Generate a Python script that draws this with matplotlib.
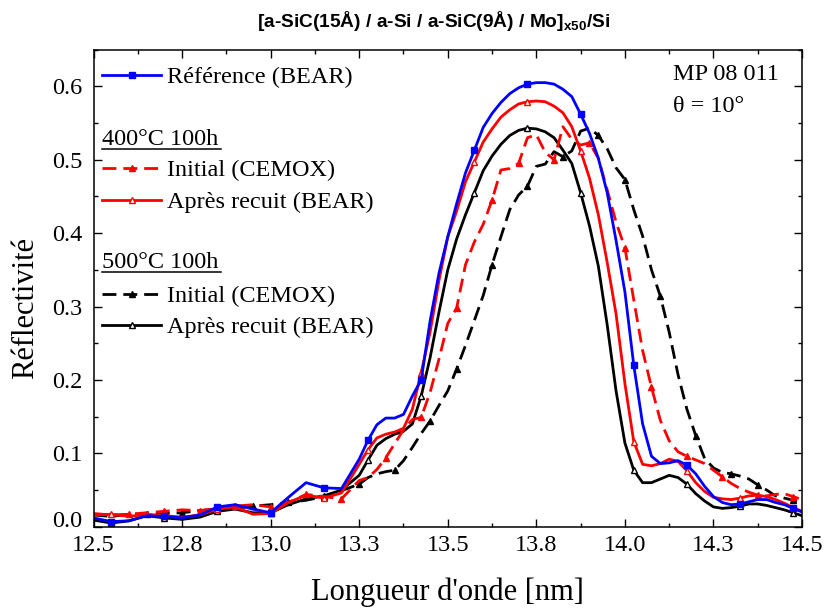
import matplotlib
matplotlib.use('Agg')
import matplotlib.pyplot as plt
import numpy as np
from matplotlib.ticker import FixedLocator, MultipleLocator
from matplotlib.transforms import ScaledTranslation

plt.rcParams['font.family'] = ['Liberation Serif', 'DejaVu Serif']
plt.rcParams['mathtext.fontset'] = 'custom'
plt.rcParams['mathtext.bf'] = 'Liberation Sans:bold'
plt.rcParams['mathtext.rm'] = 'Liberation Sans'

# wavelength grid [nm]
wavelength = [
    12.50, 12.55, 12.60, 12.65, 12.70, 12.75, 12.80, 12.85, 12.90, 12.95,
    13.00, 13.05, 13.10, 13.15, 13.20, 13.25, 13.275, 13.30, 13.325, 13.35,
    13.375, 13.40, 13.425, 13.45, 13.475, 13.50, 13.525, 13.55, 13.575, 13.60,
    13.625, 13.65, 13.675, 13.70, 13.725, 13.75, 13.775, 13.80, 13.825, 13.85,
    13.875, 13.90, 13.925, 13.95, 13.975, 14.00, 14.025, 14.05, 14.075, 14.10,
    14.125, 14.15, 14.175, 14.20, 14.225, 14.25, 14.275, 14.30, 14.325, 14.35,
    14.375, 14.40, 14.425, 14.45, 14.475, 14.50,
]

ref_bear = [
    0.012, 0.007, 0.008, 0.015, 0.014, 0.012, 0.016, 0.027, 0.030, 0.024,
    0.019, 0.040, 0.060, 0.053, 0.052, 0.092, 0.118, 0.139, 0.148, 0.148,
    0.153, 0.178, 0.200, 0.280, 0.345, 0.395, 0.440, 0.482, 0.513, 0.544,
    0.563, 0.578, 0.590, 0.598, 0.603, 0.605, 0.605, 0.603, 0.596, 0.586,
    0.562, 0.536, 0.502, 0.455, 0.390, 0.320, 0.220, 0.140, 0.096, 0.086,
    0.087, 0.090, 0.084, 0.072, 0.055, 0.041, 0.033, 0.030, 0.031, 0.034,
    0.037, 0.037, 0.033, 0.030, 0.025, 0.020,
]

init_400 = [
    0.018, 0.016, 0.017, 0.019, 0.021, 0.023, 0.022, 0.025, 0.028, 0.030,
    0.027, 0.033, 0.044, 0.041, 0.038, 0.063, 0.067, 0.078, 0.094, 0.113,
    0.132, 0.146, 0.149, 0.183, 0.228, 0.277, 0.298, 0.357, 0.388, 0.412,
    0.445, 0.486, 0.488, 0.495, 0.530, 0.534, 0.510, 0.500, 0.545, 0.528,
    0.520, 0.523, 0.502, 0.459, 0.415, 0.380, 0.309, 0.240, 0.190, 0.145,
    0.117, 0.102, 0.096, 0.091, 0.086, 0.077, 0.068, 0.059, 0.052, 0.047,
    0.043, 0.042, 0.044, 0.045, 0.041, 0.037,
]

recuit_400 = [
    0.016, 0.017, 0.014, 0.017, 0.015, 0.013, 0.016, 0.024, 0.027, 0.017,
    0.018, 0.033, 0.043, 0.039, 0.046, 0.085, 0.105, 0.121, 0.126, 0.129,
    0.134, 0.160, 0.210, 0.265, 0.335, 0.395, 0.430, 0.470, 0.497, 0.524,
    0.542, 0.558, 0.568, 0.576, 0.579, 0.580, 0.579, 0.573, 0.564, 0.545,
    0.512, 0.475, 0.425, 0.360, 0.290, 0.195, 0.116, 0.085, 0.083, 0.086,
    0.092, 0.089, 0.076, 0.060, 0.048, 0.040, 0.038, 0.037, 0.039, 0.042,
    0.043, 0.041, 0.037, 0.032, 0.026, 0.021,
]

init_500 = [
    0.016, 0.014, 0.017, 0.017, 0.018, 0.019, 0.022, 0.024, 0.025, 0.028,
    0.030, 0.033, 0.036, 0.041, 0.049, 0.058, 0.067, 0.072, 0.075, 0.077,
    0.090, 0.108, 0.127, 0.144, 0.165, 0.185, 0.215, 0.247, 0.281, 0.315,
    0.357, 0.395, 0.432, 0.452, 0.464, 0.491, 0.494, 0.511, 0.504, 0.512,
    0.539, 0.543, 0.533, 0.515, 0.489, 0.473, 0.432, 0.396, 0.350, 0.314,
    0.265, 0.207, 0.160, 0.124, 0.093, 0.080, 0.074, 0.072, 0.069, 0.065,
    0.057, 0.050, 0.042, 0.039, 0.036, 0.034,
]

recuit_500 = [
    0.009, 0.005, 0.008, 0.015, 0.012, 0.010, 0.013, 0.021, 0.024, 0.019,
    0.019, 0.030, 0.038, 0.042, 0.050, 0.070, 0.091, 0.111, 0.120, 0.126,
    0.130, 0.140, 0.178, 0.230, 0.292, 0.350, 0.392, 0.425, 0.455, 0.485,
    0.505, 0.521, 0.533, 0.540, 0.543, 0.542, 0.538, 0.530, 0.513, 0.495,
    0.455, 0.410, 0.355, 0.275, 0.185, 0.114, 0.077, 0.060, 0.060, 0.065,
    0.070, 0.067, 0.058, 0.045, 0.035, 0.027, 0.025, 0.026, 0.028, 0.031,
    0.031, 0.029, 0.026, 0.023, 0.019, 0.015,
]

# wavelengths where the symbols sit
marks_bear = [12.55, 12.70, 12.85, 13.00, 13.15, 13.275, 13.425, 13.575,
              13.725, 13.875, 14.025, 14.175, 14.325, 14.475]
marks_init_400 = [12.60, 12.70, 12.80, 12.90, 13.00, 13.10, 13.20, 13.325,
                  13.425, 13.525, 13.625, 13.70, 13.80, 13.90, 14.00, 14.075,
                  14.175, 14.275, 14.375, 14.475]
marks_init_500 = [12.65, 12.75, 12.85, 12.95, 13.05, 13.15, 13.25, 13.35,
                  13.45, 13.525, 13.625, 13.725, 13.825, 13.925, 14.00, 14.10,
                  14.20, 14.30, 14.375, 14.475]

xticks = [12.5, 12.75, 13.0, 13.25, 13.5, 13.75, 14.0, 14.25, 14.5]
xtick_labels = ['12.5', '12.8', '13.0', '13.3', '13.5', '13.8', '14.0', '14.3', '14.5']
yticks = [0.0, 0.1, 0.2, 0.3, 0.4, 0.5, 0.6]


def mark_idx(marks):
    wl = np.asarray(wavelength)
    return [int(np.argmin(np.abs(wl - m))) for m in marks]


fig = plt.figure(figsize=(8.26, 6.08), dpi=100)
ax = fig.add_axes([0.1132, 0.1337, 0.8578, 0.7847])

lw = 2.0
dash = (5, 2.5)
fs = 17.5
styles = [
    (ref_bear, dict(color='#0000ff', marker='s', ms=4.5, mfc='#0000ff', ls='-'), marks_bear),
    (init_400, dict(color='#ff0000', marker='^', ms=5, mfc='#ff0000', ls=(0, dash)), marks_init_400),
    (recuit_400, dict(color='#ff0000', marker='^', ms=5, mfc='white', mew=1.0, ls='-'), marks_bear),
    (init_500, dict(color='black', marker='^', ms=5, mfc='black', ls=(0, dash)), marks_init_500),
    (recuit_500, dict(color='black', marker='^', ms=5, mfc='white', mew=1.0, ls='-'), marks_bear),
]
# draw order: black below red below blue, like the reference
for vals, kw, marks in [styles[4], styles[3], styles[2], styles[1], styles[0]]:
    ax.plot(wavelength, vals, lw=lw, markevery=mark_idx(marks), **kw)

ax.set_xlim(12.5, 14.5)
ax.set_ylim(0, 0.65)
ax.xaxis.set_major_locator(FixedLocator(xticks))
ax.set_xticklabels(xtick_labels)
ax.xaxis.set_minor_locator(MultipleLocator(0.125))
ax.yaxis.set_major_locator(FixedLocator(yticks))
ax.set_yticklabels([f'{v:.1f}' for v in yticks])
ax.yaxis.set_minor_locator(MultipleLocator(0.05))
ax.tick_params(which='both', direction='in', top=True, right=True, labelsize=fs, width=1.0)
ax.tick_params(which='major', length=6)
ax.tick_params(which='minor', length=3.2)
ax.tick_params(axis='x', which='major', pad=6)
ax.tick_params(axis='y', which='major', pad=8)
for s in ax.spines.values():
    s.set_linewidth(1.1)

ax.set_xlabel("Longueur d'onde [nm]", fontsize=22)
ax.xaxis.set_label_coords(0.5, -0.107)
ax.set_ylabel('Réflectivité', fontsize=22)
ax.yaxis.set_label_coords(-0.076, 0.459)

fig.text(434 / 826, 1 - 21 / 608,
         r'[a-SiC(15Å) / a-Si / a-SiC(9Å) / Mo]$_{\mathbf{x50}}$/Si',
         family='Liberation Sans', weight='bold', fontsize=13.8, ha='center', va='center')


# hand-made legend, rows placed in pixel-like axes fractions
def ax_x(px):
    return (px - 93.5) / 708.5


def ax_y(py):
    return (526.7 - py) / 477.1


ax.text(ax_x(673), ax_y(80), 'MP 08 011', transform=ax.transAxes, fontsize=fs, va='baseline')
ax.text(ax_x(673), ax_y(112), 'θ = 10°', transform=ax.transAxes, fontsize=fs, va='baseline')

hx0, hx1, tx = ax_x(102), ax_x(161), ax_x(167)
legend_rows = [
    (75, styles[0][1], 'Référence (BEAR)'),
    (168, styles[1][1], 'Initial (CEMOX)'),
    (200, styles[2][1], 'Après recuit (BEAR)'),
    (294, styles[3][1], 'Initial (CEMOX)'),
    (325, styles[4][1], 'Après recuit (BEAR)'),
]
for py, kw, label in legend_rows:
    y = ax_y(py)
    ax.plot([hx0, (hx0 + hx1) / 2, hx1], [y, y, y], transform=ax.transAxes,
            clip_on=False, lw=lw, markevery=[1], **kw)
    ax.text(tx, ax_y(py + 8), label, transform=ax.transAxes, fontsize=fs, va='baseline')

fig.canvas.draw()
renderer = fig.canvas.get_renderer()
for py, label in [(145, '400°C 100h'), (268, '500°C 100h')]:
    t = ax.text(hx0, ax_y(py), label, transform=ax.transAxes, fontsize=fs, va='baseline')
    bb = t.get_window_extent(renderer).transformed(ax.transAxes.inverted())
    uy = ax_y(py + 4)
    ax.plot([bb.x0, bb.x1 + 0.004], [uy, uy], transform=ax.transAxes, color='black', lw=1.1, clip_on=False)

# lift the "0.0" label a little so it clears "12.5", as in the original
zero_lab = ax.yaxis.get_major_ticks()[0].label1
zero_lab.set_transform(zero_lab.get_transform() + ScaledTranslation(0, 8 / 100, fig.dpi_scale_trans))

fig.savefig('out.png', dpi=100)
